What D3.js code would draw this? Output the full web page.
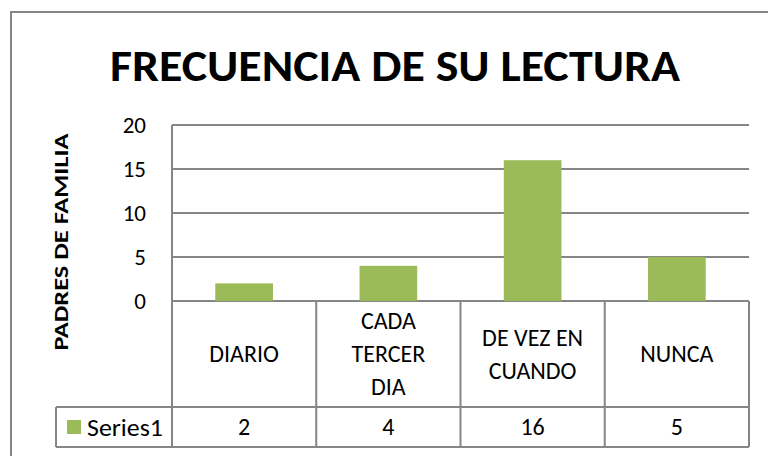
<!DOCTYPE html>
<html>
<head>
<meta charset="utf-8">
<script src="https://cdn.jsdelivr.net/npm/d3@7"></script>
<style>
  body { margin: 0; background: #fff; }
  svg text { font-family: Carlito, Lato, 'Open Sans', sans-serif; fill: #000; }
</style>
</head>
<body>
<svg id="chart" width="768" height="456"></svg>
<script>
const categories = ['DIARIO', 'CADA TERCER DIA', 'DE VEZ EN CUANDO', 'NUNCA']
const categoryLines = [['DIARIO'], ['CADA', 'TERCER', 'DIA'], ['DE VEZ EN', 'CUANDO'], ['NUNCA']]
const series1 = [2, 4, 16, 5]
const yTicks = [0, 5, 10, 15, 20]
const seriesName = 'Series1'
const title = 'FRECUENCIA DE SU LECTURA'
const yTitle = 'PADRES DE FAMILIA'

const GREEN = '#9bbb59'
const GRID = '#868686'

const svg = d3.select('#chart')
const margin = { top: 125, right: 19, left: 172 }
const plotBottom = 301
const catRowBottom = 407
const tableBottom = 447
const legendLeft = 56

// outer chart frame (runs past the right and bottom edges)
svg.append('rect')
    .attr('x', 11).attr('y', 12)
    .attr('width', 800).attr('height', 500)
    .attr('fill', 'none').attr('stroke', GRID).attr('stroke-width', 2)

const x = d3.scaleBand()
    .domain(categories)
    .range([margin.left, 768 - margin.right])
    .paddingInner(0)

const y = d3.scaleLinear()
    .domain([0, 20])
    .range([plotBottom, margin.top])

// gridlines
svg.append('g')
    .selectAll('line')
    .data(yTicks)
    .join('line')
    .attr('x1', margin.left).attr('x2', 768 - margin.right)
    .attr('y1', (d) => y(d)).attr('y2', (d) => y(d))
    .attr('stroke', GRID).attr('stroke-width', 2)

// y tick labels
svg.append('g')
    .selectAll('text')
    .data(yTicks)
    .join('text')
    .attr('x', 146)
    .attr('y', (d) => y(d) + 8)
    .attr('text-anchor', 'end')
    .style('font-size', '23px')
    .text((d) => d)

// bars: gap width 150%
const barW = x.bandwidth() / 2.5
svg.append('g')
    .selectAll('rect')
    .data(series1)
    .join('rect')
    .attr('x', (d, i) => x(categories[i]) + (x.bandwidth() - barW) / 2)
    .attr('y', (d) => y(d))
    .attr('width', barW)
    .attr('height', (d) => y(0) - y(d))
    .attr('fill', GREEN)

// data table lines
const table = svg.append('g').attr('stroke', GRID).attr('stroke-width', 2)
table.append('line')
    .attr('x1', margin.left).attr('x2', margin.left)
    .attr('y1', margin.top).attr('y2', tableBottom)
x.domain().forEach((c) => {
    table.append('line')
        .attr('x1', x(c) + x.bandwidth()).attr('x2', x(c) + x.bandwidth())
        .attr('y1', plotBottom).attr('y2', tableBottom)
})
table.append('line')
    .attr('x1', legendLeft).attr('x2', 768 - margin.right)
    .attr('y1', catRowBottom).attr('y2', catRowBottom)
table.append('line')
    .attr('x1', legendLeft).attr('x2', 768 - margin.right)
    .attr('y1', tableBottom).attr('y2', tableBottom)
table.append('line')
    .attr('x1', legendLeft).attr('x2', legendLeft)
    .attr('y1', catRowBottom).attr('y2', tableBottom)

// category labels
const lineH = 33
const catMid = (plotBottom + catRowBottom) / 2
categoryLines.forEach((lines, i) => {
    const cx = x(categories[i]) + x.bandwidth() / 2
    const t = svg.append('text')
        .attr('text-anchor', 'middle')
        .style('font-size', '24px')
    lines.forEach((l, j) => {
        t.append('tspan')
            .attr('x', cx)
            .attr('y', catMid + 8 + (j - (lines.length - 1) / 2) * lineH)
            .text(l)
    })
})

// values row
svg.append('g')
    .selectAll('text')
    .data(series1)
    .join('text')
    .attr('x', (d, i) => x(categories[i]) + x.bandwidth() / 2)
    .attr('y', (catRowBottom + tableBottom) / 2 + 8)
    .attr('text-anchor', 'middle')
    .style('font-size', '24px')
    .text((d) => d)

// legend key
svg.append('rect')
    .attr('x', 67).attr('y', 420)
    .attr('width', 14).attr('height', 14)
    .attr('fill', GREEN)
svg.append('text')
    .attr('x', 87).attr('y', 436)
    .attr('textLength', 76).attr('lengthAdjust', 'spacingAndGlyphs')
    .style('font-size', '24px')
    .text(seriesName)

// titles
svg.append('text')
    .attr('x', 395).attr('y', 81)
    .attr('text-anchor', 'middle')
    .attr('textLength', 570).attr('lengthAdjust', 'spacingAndGlyphs')
    .style('font-size', '45px').style('font-weight', 'bold')
    .text(title)

svg.append('text')
    .attr('transform', 'translate(68,242) rotate(-90)')
    .attr('text-anchor', 'middle')
    .attr('textLength', 217).attr('lengthAdjust', 'spacingAndGlyphs')
    .style('font-size', '21px').style('font-weight', 'bold')
    .text(yTitle)
</script>
</body>
</html>
